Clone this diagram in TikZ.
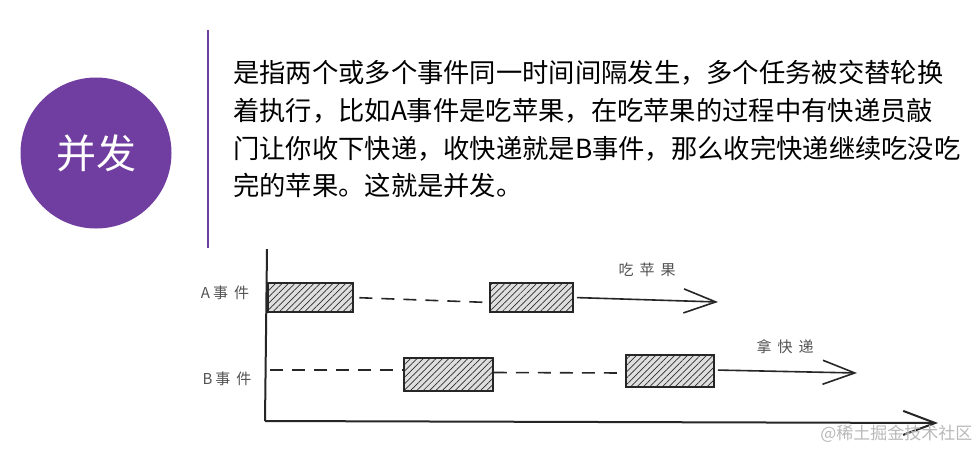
\documentclass[tikz,border=0pt]{standalone}
\usepackage{fontspec}
\setmainfont{Noto Sans CJK SC}
\usetikzlibrary{arrows.meta,patterns.meta}
\definecolor{purp}{RGB}{112,61,160}
\definecolor{ink}{RGB}{38,38,38}
\begin{document}
\begin{tikzpicture}[x=1pt,y=-1pt,
  bar/.style={draw=ink, line width=1.8pt, inner sep=0pt, preaction={fill=gray!25},
              pattern={Lines[angle=45,distance=4.5pt,line width=0.7pt]}, pattern color=gray!35!black},
  dashline/.style={draw=ink, line width=1.6pt, dash pattern=on 13pt off 9pt},
  flow/.style={draw=ink, line width=1.6pt, -{Straight Barb[length=32pt,width=24pt]}},
  hand/.style={text=gray!65!black, font=\fontsize{15}{15}\selectfont},
]
\useasboundingbox (0,0) rectangle (977,451);
\fill[white] (0,0) rectangle (977,451);

% header
\node[circle, fill=purp, minimum size=151pt, inner sep=0pt, text=white,
      font=\fontsize{40}{40}\selectfont] (circ) at (96,153) {并发};
\coordinate (vt) at (208,30);
\coordinate (vb) at (208,248);
\draw[purp, line width=1.5pt] (vt) -- (vb);
\node[anchor=north west, inner sep=0pt, align=left,
      font=\fontsize{26.3}{37.8}\selectfont] (desc) at (233,60)
 {是指两个或多个事件同一时间间隔发生，多个任务被交替轮换\\
  着执行，比如A事件是吃苹果，在吃苹果的过程中有快递员敲\\
  门让你收下快递，收快递就是B事件，那么收完快递继续吃没吃\\
  完的苹果。这就是并发。};

% axes
\coordinate (ytop) at (267,249);
\coordinate (o) at (265,421);
\coordinate (xend) at (938,423);
\draw[ink, line width=2pt] (ytop) -- (o);
\draw[flow, line width=2pt] (o) -- (xend);

% bars
\node[bar, minimum width=85pt, minimum height=29pt] (a1) at (310.5,297.5) {};
\node[bar, minimum width=83pt, minimum height=29pt] (a2) at (531.5,297.5) {};
\node[bar, minimum width=89pt, minimum height=33pt] (b1) at (448.5,374.5) {};
\node[bar, minimum width=88pt, minimum height=32pt] (b2) at (670,371) {};

% row A
\draw[dashline, shorten <=6pt] (a1.east) -- ([yshift=-5pt]a2.west);
\coordinate (ae) at (718,302);
\draw[flow, shorten <=3pt] (a2.east) -- (ae);

% row B
\coordinate (b0) at (270,370);
\draw[dashline] (b0) -- (b0 -| b1.west);
\draw[dashline] ([yshift=2pt]b1.east) -- ([yshift=-2pt]b2.west);
\coordinate (be) at (857,373);
\draw[flow, shorten <=3pt] ([yshift=1pt]b2.east) -- (be);

% labels
\node[hand] (la) at (225,293) {A\hspace{3pt}事\hspace{6pt}件};
\node[hand] (lb) at (227,379) {B\hspace{3pt}事\hspace{6pt}件};
\node[hand] (eat) at (647,270) {吃\hspace{6pt}苹\hspace{6pt}果};
\node[hand] (get) at (785,347) {拿\hspace{6pt}快\hspace{6pt}递};

% watermark
\node[anchor=east, text=gray!55, font=\fontsize{17}{17}\selectfont] (wm) at (976,434) {@稀土掘金技术社区};
\end{tikzpicture}
\end{document}
